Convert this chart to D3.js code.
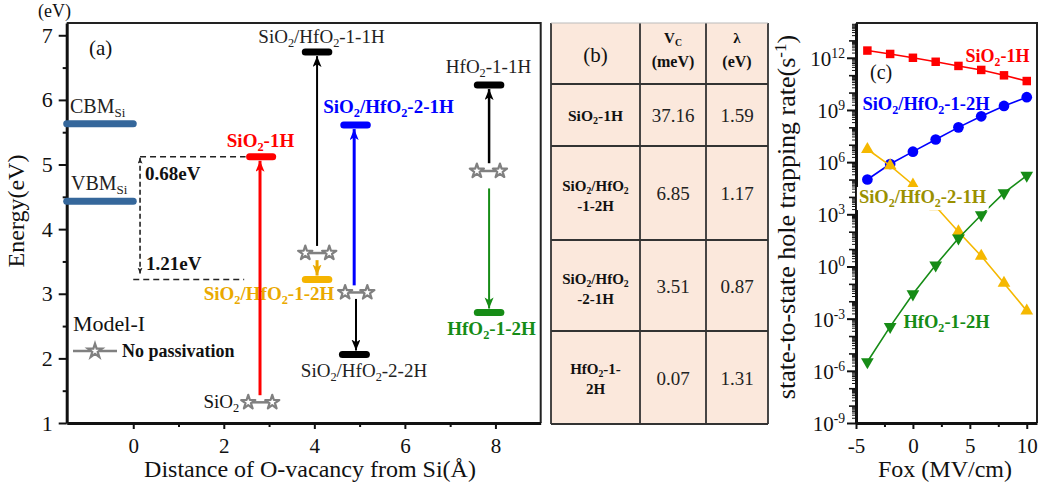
<!DOCTYPE html>
<html>
<head>
<meta charset="utf-8">
<script src="https://cdn.jsdelivr.net/npm/d3@7/dist/d3.min.js"></script>
<style>
body { margin: 0; background: #fff; }
svg text { font-family: "Liberation Serif", "Times New Roman", serif; }
</style>
</head>
<body>
<svg id="fig" width="1039" height="490"></svg>
<script>
// ---------- panel (a): defect levels (eV) vs O-vacancy distance from Si (Å) ----------
var levelLabels = ["CBM_{Si}", "VBM_{Si}", "SiO_{2}-1H", "SiO_{2}/HfO_{2}-1-1H", "SiO_{2}/HfO_{2}-1-2H",
                   "SiO_{2}/HfO_{2}-2-1H", "SiO_{2}/HfO_{2}-2-2H", "HfO_{2}-1-1H", "HfO_{2}-1-2H"];
var levelFrom = [-1.47, -1.47, 2.57, 3.8, 3.8, 4.65, 4.62, 7.6, 7.6];
var levelTo   = [0.0, 0.0, 3.08, 4.32, 4.32, 5.17, 5.15, 8.12, 8.12];
var levelE    = [5.63, 4.43, 5.12, 6.74, 3.22, 5.61, 2.06, 6.23, 2.71];

// no-passivation states (pairs of stars)
var starLabels = ["SiO_{2}", "", "", ""];
var starE      = [1.32, 3.63, 3.02, 4.9];
var starLeft   = [2.54, 3.8, 4.68, 7.59];
var starRight  = [3.07, 4.33, 5.17, 8.1];

// transitions: x position, start energy, target level index
var arrowX      = [2.8, 4.06, 4.06, 4.88, 4.92, 7.86, 7.86];
var arrowFrom   = [1.43, 3.74, 3.52, 3.13, 2.92, 5.02, 4.63];
var arrowTarget = [2, 3, 4, 5, 6, 7, 8];

// ---------- panel (b): table ----------
var tableRows   = [["SiO_{2}-1H"], ["SiO_{2}/HfO_{2}", "-1-2H"], ["SiO_{2}/HfO_{2}", "-2-1H"], ["HfO_{2}-1-", "2H"]];
var tableVc     = [37.16, 6.85, 3.51, 0.07];
var tableLambda = [1.59, 1.17, 0.87, 1.31];

// ---------- panel (c): trapping rate (s^-1) vs Fox (MV/cm) ----------
var fox = [-4, -2, 0, 2, 4, 6, 8, 10];
var rateSiO2_1H     = [2.6e12, 1.66e12, 1.0e12, 5.9e11, 3.4e11, 2.0e11, 9.8e10, 4.6e10];
var rateSiHf_1_2H   = [1.0e5, 7.8e5, 4.0e6, 2.0e7, 1.0e8, 4.3e8, 1.7e9, 5.4e9];
var rateSiHf_2_1H   = [5.5e6, 6.3e5, 5.0e4, 2.8e3, 1.0e2, 4.0, 1.1e-1, 2.8e-3];
var rateHfO2_1_2H   = [3.3e-6, 3.5e-4, 2.6e-2, 1.2, 42, 9.1e2, 1.7e4, 1.7e5];

var svg = d3.select("#fig");
var SERIF = '"Liberation Serif", "Times New Roman", serif';

// text with _{sub} and ^{sup}
function rich(t, str, fs) {
  str.split(/(_\{[^}]*\}|\^\{[^}]*\})/).forEach(function (p) {
    if (!p) return;
    var ts = t.append("tspan");
    if (p[0] === "_") ts.text(p.slice(2, -1)).attr("font-size", fs * 0.65).style("baseline-shift", (-fs * 0.22) + "px");
    else if (p[0] === "^") ts.text(p.slice(2, -1)).attr("font-size", fs * 0.65).style("baseline-shift", (fs * 0.36) + "px");
    else ts.text(p);
  });
}
function label(g, str, x, y, o) {
  o = o || {};
  var fs = o.size || 19;
  var t = g.append("text").attr("x", x).attr("y", y).attr("font-size", fs)
    .style("font-family", SERIF)
    .attr("text-anchor", o.anchor || "start")
    .attr("font-weight", o.bold ? "bold" : "normal")
    .style("fill", o.color || "#111");
  if (o.rotate) t.attr("transform", "rotate(" + o.rotate + "," + x + "," + y + ")");
  rich(t, str, fs);
  return t;
}
function styleAxis(sel, fs) {
  sel.attr("font-family", null);
  sel.select(".domain").attr("stroke", "#111").attr("stroke-width", 3);
  sel.selectAll(".tick line").attr("stroke", "#111").attr("stroke-width", 2);
  sel.selectAll(".tick text").attr("font-size", fs).style("font-family", SERIF).style("fill", "#111");
}

// arrow markers
var defs = svg.append("defs");
function marker(id, color, len, wid) {
  defs.append("marker").attr("id", id).attr("markerUnits", "userSpaceOnUse")
    .attr("markerWidth", len + 2).attr("markerHeight", wid + 2)
    .attr("refX", len).attr("refY", wid / 2).attr("orient", "auto-start-reverse")
    .append("path").attr("d", "M0,0L" + len + "," + wid / 2 + "L0," + wid + "L" + (len * 0.25) + "," + wid / 2 + "Z")
    .attr("fill", color);
}

// ===================== panel (a) =====================
var xA = d3.scaleLinear().domain([-1.47, 9.0]).range([66.7, 540.7]);
var yA = d3.scaleLinear().domain([1, 7.19]).range([423, 23]);
var gA = svg.append("g");

var levelColors = ["#35679b", "#35679b", "#ff0000", "#000000", "#f5b400", "#0000ff", "#000000", "#000000", "#168c16"];
var labelColors = ["#222", "#222", "#ff0000", "#222", "#eaa900", "#0000ff", "#222", "#222", "#168c16"];
var labelBold   = [false, false, true, false, true, true, false, false, true];
var labelPos    = [[70, 113, "start"], [71, 190, "start"], [260.5, 147, "middle"], [321.5, 43, "middle"],
                   [269, 300, "middle"], [388.5, 113, "middle"], [364, 377, "middle"], [488.5, 73, "middle"],
                   [491.5, 335, "middle"]];

gA.append("path").attr("d", "M66.7,23H540.7V423").attr("fill", "none").attr("stroke", "#222").attr("stroke-width", 2);

var axXA = gA.append("g").attr("transform", "translate(0,423)")
  .call(d3.axisBottom(xA).tickValues([0, 2, 4, 6, 8]).tickSize(6).tickSizeOuter(0).tickPadding(9).tickFormat(d3.format("d")));
styleAxis(axXA, 21);
var axXAm = gA.append("g").attr("transform", "translate(0,423)")
  .call(d3.axisBottom(xA).tickValues([1, 3, 5, 7]).tickSize(4).tickFormat(""));
axXAm.select(".domain").remove();
axXAm.selectAll("line").attr("stroke", "#111").attr("stroke-width", 2);

var axYA = gA.append("g").attr("transform", "translate(66.7,0)")
  .call(d3.axisLeft(yA).tickValues([1, 2, 3, 4, 5, 6, 7]).tickSize(8).tickSizeOuter(0).tickPadding(6).tickFormat(d3.format("d")));
styleAxis(axYA, 22);
var axYAm = gA.append("g").attr("transform", "translate(66.7,0)")
  .call(d3.axisLeft(yA).tickValues([1.5, 2.5, 3.5, 4.5, 5.5, 6.5]).tickSize(4).tickFormat(""));
axYAm.select(".domain").remove();
axYAm.selectAll("line").attr("stroke", "#111").attr("stroke-width", 2);

label(gA, "(eV)", 38, 17, { size: 18 });
label(gA, "(a)", 89, 55, { size: 21 });
label(gA, "Energy(eV)", 24, 211, { size: 24, anchor: "middle", rotate: -90 });
label(gA, "Distance of O-vacancy from Si(Å)", 310, 477, { size: 24, anchor: "middle" });

// dashed offsets
marker("mDash", "#222", 6, 5);
var xd = xA(0.15);
gA.append("line").attr("x1", xd).attr("x2", xd).attr("y1", yA(levelE[2]) + 1).attr("y2", yA(levelE[4]) - 6)
  .attr("stroke", "#222").attr("stroke-width", 1.6).attr("stroke-dasharray", "5,3")
  .attr("marker-start", "url(#mDash)").attr("marker-end", "url(#mDash)");
gA.append("line").attr("x1", xd).attr("x2", xA(levelFrom[2]) - 4).attr("y1", yA(levelE[2])).attr("y2", yA(levelE[2]))
  .attr("stroke", "#222").attr("stroke-width", 1.6).attr("stroke-dasharray", "6,4");
gA.append("line").attr("x1", xA(0)).attr("x2", xA(2.45)).attr("y1", yA(levelE[4])).attr("y2", yA(levelE[4]))
  .attr("stroke", "#222").attr("stroke-width", 1.6).attr("stroke-dasharray", "6,4");
label(gA, "0.68eV", 145, 180, { size: 19, bold: true });
label(gA, "1.21eV", 146, 270, { size: 19, bold: true });

// level bars
gA.selectAll("line.level").data(levelE).enter().append("line").attr("class", "level")
  .attr("x1", function (d, i) { return xA(levelFrom[i]); })
  .attr("x2", function (d, i) { return xA(levelTo[i]); })
  .attr("y1", function (d) { return yA(d); }).attr("y2", function (d) { return yA(d); })
  .attr("stroke", function (d, i) { return levelColors[i]; })
  .attr("stroke-width", 7).attr("stroke-linecap", "round");
levelLabels.forEach(function (s, i) {
  label(gA, s, labelPos[i][0], labelPos[i][1], { size: i < 2 ? 20 : 19, bold: labelBold[i], color: labelColors[i], anchor: labelPos[i][2] });
});

// arrows
var arrowColors = ["#ff0000", "#000000", "#eaa900", "#0000ff", "#000000", "#000000", "#168c16"];
var arrowWidth  = [3, 2, 3, 3, 2, 2.5, 2];
arrowColors.forEach(function (c, i) { marker("mA" + i, c, 11, 9); });
arrowX.forEach(function (x, i) {
  var e1 = levelE[arrowTarget[i]];
  var up = e1 > arrowFrom[i];
  gA.append("line").attr("x1", xA(x)).attr("x2", xA(x))
    .attr("y1", yA(arrowFrom[i])).attr("y2", yA(e1) + (up ? 4 : -4))
    .attr("stroke", arrowColors[i]).attr("stroke-width", arrowWidth[i])
    .attr("marker-end", "url(#mA" + i + ")");
});

// stars
var star = d3.symbol().type(d3.symbolStar).size(62);
function starPair(g, xa, xb, y) {
  g.append("line").attr("x1", xa).attr("x2", xb).attr("y1", y).attr("y2", y).attr("stroke", "#808080").attr("stroke-width", 2.5);
  [xa, xb].forEach(function (x) {
    g.append("path").attr("d", star()).attr("transform", "translate(" + x + "," + y + ")")
      .attr("fill", "#fff").attr("stroke", "#808080").attr("stroke-width", 2.2).attr("stroke-linejoin", "round");
  });
}
starE.forEach(function (e, i) {
  starPair(gA, xA(starLeft[i]), xA(starRight[i]), yA(e));
  if (starLabels[i]) label(gA, starLabels[i], xA(starLeft[i]) - 9, yA(e) + 6, { size: 19, anchor: "end" });
});

// legend
label(gA, "Model-I", 73, 331, { size: 22 });
gA.append("line").attr("x1", 73).attr("x2", 117).attr("y1", 351).attr("y2", 351).attr("stroke", "#808080").attr("stroke-width", 2.5);
gA.append("path").attr("d", star()).attr("transform", "translate(95,351)")
  .attr("fill", "#fff").attr("stroke", "#808080").attr("stroke-width", 2.2);
label(gA, "No passivation", 122, 357, { size: 18, bold: true });

// ===================== panel (b) =====================
var gB = svg.append("g");
var colX = [551, 640, 706, 768];
var rowY = [23, 84, 146, 240, 331, 424];
gB.append("rect").attr("x", colX[0]).attr("y", rowY[0]).attr("width", colX[3] - colX[0]).attr("height", rowY[5] - rowY[0])
  .attr("fill", "#fbe8dc");
colX.forEach(function (x) {
  gB.append("line").attr("x1", x).attr("x2", x).attr("y1", rowY[0]).attr("y2", rowY[5]).attr("stroke", "#333").attr("stroke-width", 1.8);
});
rowY.forEach(function (y, i) {
  gB.append("line").attr("x1", colX[0]).attr("x2", colX[3]).attr("y1", y).attr("y2", y)
    .attr("stroke", i === 0 ? "#bbb" : "#333").attr("stroke-width", i === 0 ? 1 : 1.8);
});
var cx = [(colX[0] + colX[1]) / 2, (colX[1] + colX[2]) / 2, (colX[2] + colX[3]) / 2];
label(gB, "(b)", cx[0], 62, { size: 21, anchor: "middle" });
label(gB, "V_{C}", cx[1], 43, { size: 15, bold: true, anchor: "middle" });
label(gB, "(meV)", cx[1], 67, { size: 16, bold: true, anchor: "middle" });
label(gB, "λ", cx[2], 43, { size: 15, bold: true, anchor: "middle" });
label(gB, "(eV)", cx[2], 67, { size: 16, bold: true, anchor: "middle" });
var fmt = d3.format(".2f");
tableRows.forEach(function (lines, i) {
  var mid = (rowY[i + 1] + rowY[i + 2]) / 2;
  if (lines.length === 1) label(gB, lines[0], cx[0], mid + 6, { size: 15.5, bold: true, anchor: "middle" });
  else {
    label(gB, lines[0], cx[0], mid + (i === 3 ? -4 : -2), { size: 15, bold: true, anchor: "middle" });
    label(gB, lines[1], cx[0], mid + (i === 3 ? 16 : 18), { size: 15, bold: true, anchor: "middle" });
  }
  label(gB, fmt(tableVc[i]), cx[1], mid + 7, { size: 19, anchor: "middle", color: "#222" });
  label(gB, fmt(tableLambda[i]), cx[2], mid + 7, { size: 19, anchor: "middle", color: "#222" });
});

// ===================== panel (c) =====================
var xC = d3.scaleLinear().domain([-5, 10.9]).range([856, 1037]);
var yC = d3.scaleLog().domain([1e-9, 1e14]).range([423, 23]);
var gC = svg.append("g");
gC.append("path").attr("d", "M856,23H1037V423").attr("fill", "none").attr("stroke", "#222").attr("stroke-width", 2);

var axXC = gC.append("g").attr("transform", "translate(0,423)")
  .call(d3.axisBottom(xC).tickValues([-5, 0, 5, 10]).tickSize(6).tickSizeOuter(0).tickPadding(9).tickFormat(d3.format("d")));
styleAxis(axXC, 21);
axXC.selectAll(".tick text").text(function (d) { return d < 0 ? "-" + Math.abs(d) : d; });
var axXCm = gC.append("g").attr("transform", "translate(0,423)")
  .call(d3.axisBottom(xC).tickValues([-2.5, 2.5, 7.5]).tickSize(4).tickFormat(""));
axXCm.select(".domain").remove();
axXCm.selectAll("line").attr("stroke", "#111").attr("stroke-width", 2);

var majorExp = [-9, -6, -3, 0, 3, 6, 9, 12];
var axYC = gC.append("g").attr("transform", "translate(856,0)")
  .call(d3.axisLeft(yC).tickValues(majorExp.map(function (e) { return Math.pow(10, e); })).tickSize(9).tickSizeOuter(0).tickFormat(""));
styleAxis(axYC, 21);
var minorVals = [], decadeVals = [];
for (var e = -9; e < 14; e++) {
  if (majorExp.indexOf(e) < 0) decadeVals.push(Math.pow(10, e));
  for (var m = 2; m < 10; m++) minorVals.push(m * Math.pow(10, e));
}
var axYCd = gC.append("g").attr("transform", "translate(856,0)")
  .call(d3.axisLeft(yC).tickValues(decadeVals).tickSize(7).tickFormat(""));
axYCd.select(".domain").remove();
axYCd.selectAll("line").attr("stroke", "#111").attr("stroke-width", 1.6);
var axYCm = gC.append("g").attr("transform", "translate(856,0)")
  .call(d3.axisLeft(yC).tickValues(minorVals).tickSize(4).tickFormat(""));
axYCm.select(".domain").remove();
axYCm.selectAll("line").attr("stroke", "#111").attr("stroke-width", 1);
majorExp.forEach(function (e) {
  label(gC, "10^{" + (e < 0 ? "-" + Math.abs(e) : e) + "}", 845, yC(Math.pow(10, e)) + 8, { size: 21, anchor: "end" });
});

label(gC, "state-to-state hole trapping rate(s^{-1})", 795, 217, { size: 26, anchor: "middle", rotate: -90 });
label(gC, "Fox (MV/cm)", 945, 477, { size: 24, anchor: "middle" });

var seriesData  = [rateSiO2_1H, rateSiHf_1_2H, rateSiHf_2_1H, rateHfO2_1_2H];
var seriesColor = ["#ff0000", "#0000ff", "#f5b800", "#168c16"];
var seriesSym   = [d3.symbolSquare, d3.symbolCircle, d3.symbolTriangle, d3.symbolTriangle];
var seriesSize  = [72, 90, 70, 70];
var seriesRot   = [0, 0, 0, 180];
var lineC = d3.line().x(function (d, i) { return xC(fox[i]); }).y(function (d) { return yC(d); });
seriesData.forEach(function (vals, s) {
  gC.append("path").attr("d", lineC(vals)).attr("fill", "none").attr("stroke", seriesColor[s]).attr("stroke-width", 1.6);
  gC.selectAll(null).data(vals).enter().append("path")
    .attr("d", d3.symbol().type(seriesSym[s]).size(seriesSize[s]))
    .attr("transform", function (d, i) { return "translate(" + xC(fox[i]) + "," + yC(d) + ") rotate(" + seriesRot[s] + ")"; })
    .attr("fill", seriesColor[s]);
});

label(gC, "SiO_{2}-1H", 997.5, 62, { size: 18, bold: true, color: "#ff0000", anchor: "middle" });
label(gC, "(c)", 870, 79, { size: 20 });
label(gC, "SiO_{2}/HfO_{2}-1-2H", 926, 110, { size: 18.5, bold: true, color: "#0000ff", anchor: "middle" });
var olive = label(gC, "SiO_{2}/HfO_{2}-2-1H", 922.5, 203, { size: 18.5, bold: true, color: "#9a9000", anchor: "middle" });
var bb = olive.node().getBBox();
gC.insert("rect", function () { return olive.node(); })
  .attr("x", bb.x - 2).attr("y", bb.y).attr("width", bb.width + 4).attr("height", bb.height).attr("fill", "#fff");
label(gC, "HfO_{2}-1-2H", 946.5, 328, { size: 18.5, bold: true, color: "#168c16", anchor: "middle" });
</script>
</body>
</html>
